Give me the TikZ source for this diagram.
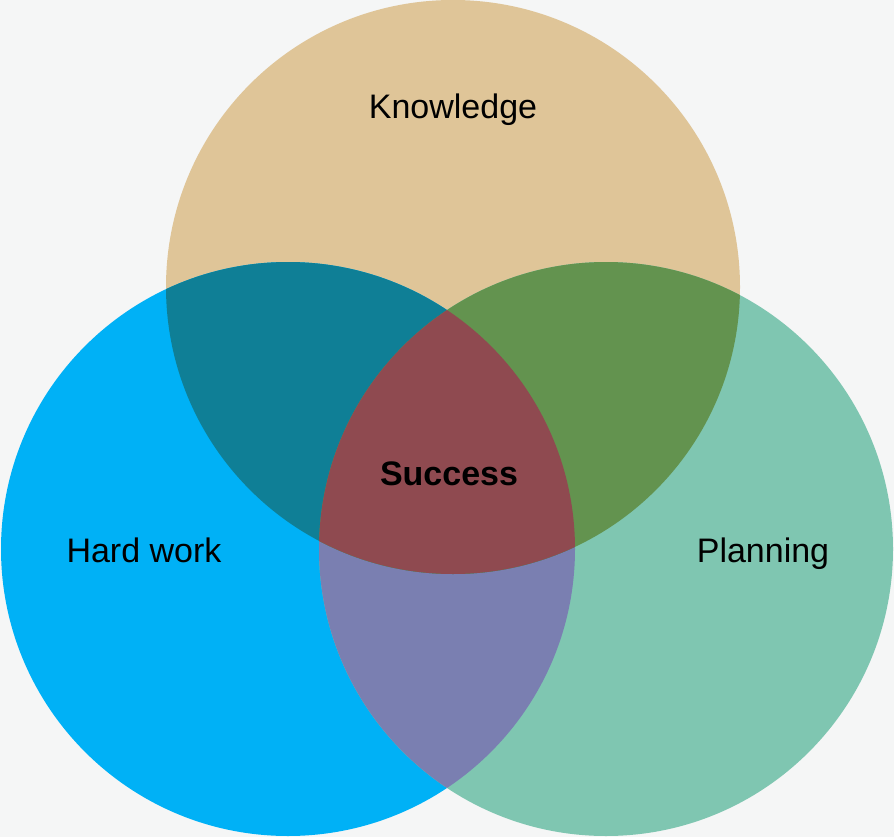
\documentclass[tikz,border=0pt]{standalone}
\usepackage{fontspec}
\setmainfont{Liberation Sans}
\usetikzlibrary{backgrounds}
\definecolor{bgcol}{HTML}{F5F6F6}
\definecolor{knowcol}{HTML}{DFC598}
\definecolor{hardcol}{HTML}{00B1F6}
\definecolor{plancol}{HTML}{7FC6B1}
\definecolor{khcol}{HTML}{0F7F96}
\definecolor{kpcol}{HTML}{63934F}
\definecolor{hpcol}{HTML}{7A7FB1}
\definecolor{allcol}{HTML}{8F4A50}
\tikzstyle{annot} = [align=center, anchor=base, inner sep=0pt, font=\fontsize{34}{40}\selectfont]
\newcommand{\vennR}{287pt}

\begin{document}
\begin{tikzpicture}[x=1pt, y=-1pt]
	\fill[bgcol] (0,0) rectangle (894,837);
	\useasboundingbox (0,0) rectangle (894,837);

	\coordinate (k) at (453,287);
	\coordinate (h) at (288,549);
	\coordinate (p) at (606,549);

	\fill[knowcol] (k) circle (\vennR);
	\fill[hardcol] (h) circle (\vennR);
	\fill[plancol] (p) circle (\vennR);

	\begin{scope}
		\clip (h) circle (\vennR);
		\fill[hpcol] (p) circle (\vennR);
	\end{scope}
	\begin{scope}
		\clip (k) circle (\vennR);
		\fill[khcol] (h) circle (\vennR);
		\fill[kpcol] (p) circle (\vennR);
		\clip (h) circle (\vennR);
		\fill[allcol] (p) circle (\vennR);
	\end{scope}

	\node[annot] (knowledge) at (453,118.5) {Knowledge};
	\node[annot] (hardwork) at (144,562) {Hard work};
	\node[annot] (planning) at (763,562) {Planning};
	\node[annot, font=\fontsize{34}{40}\selectfont\bfseries] (success) at (449,485) {Success};
\end{tikzpicture}
\end{document}
